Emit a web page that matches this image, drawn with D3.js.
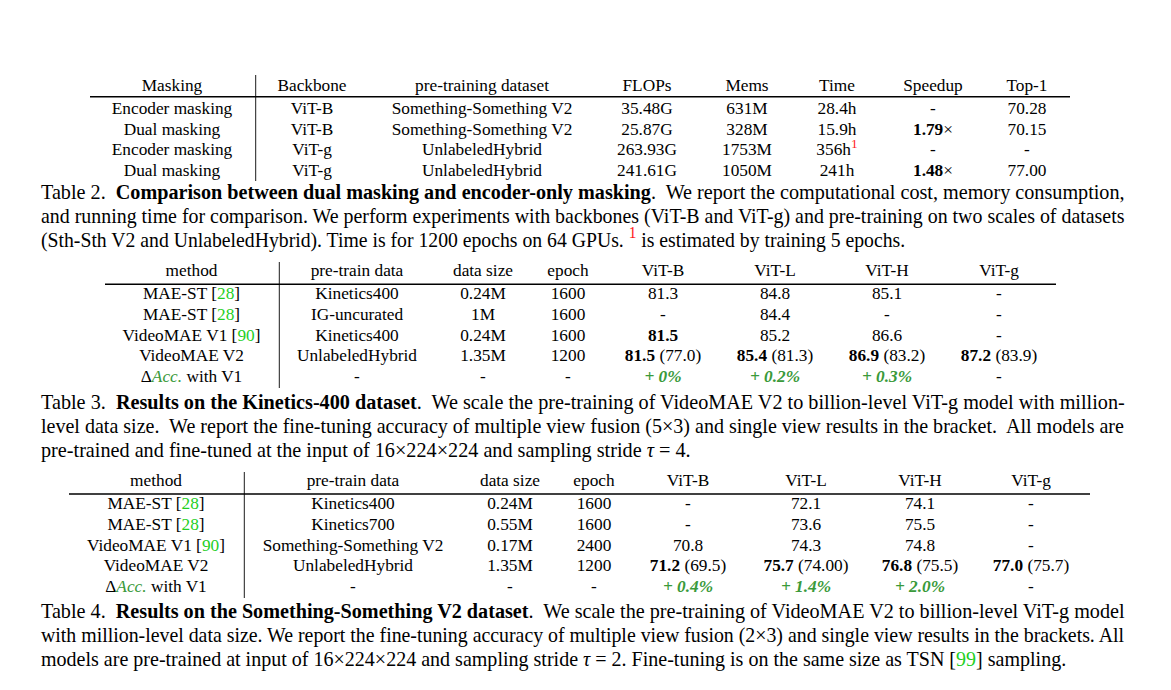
<!DOCTYPE html>
<html><head><meta charset="utf-8">
<script src="https://cdn.jsdelivr.net/npm/d3@7"></script>
<style>html,body{margin:0;padding:0;background:#fff}svg{display:block}</style>
</head><body>
<script>
// ---------- DATA ----------
// Table 2
const t2Columns = ["Masking","Backbone","pre-training dataset","FLOPs","Mems","Time","Speedup","Top-1"];
const t2Masking = ["Encoder masking","Dual masking","Encoder masking","Dual masking"];
const t2Backbone = ["ViT-B","ViT-B","ViT-g","ViT-g"];
const t2Dataset = ["Something-Something V2","Something-Something V2","UnlabeledHybrid","UnlabeledHybrid"];
const t2FLOPs = ["35.48G","25.87G","263.93G","241.61G"];
const t2Mems = ["631M","328M","1753M","1050M"];
const t2Time = ["28.4h","15.9h","356h^1^","241h"];
const t2Speedup = ["-","**1.79**×","-","**1.48**×"];
const t2Top1 = ["70.28","70.15","-","77.00"];
const t2Caption = [
  "Table 2.  **Comparison between dual masking and encoder-only masking**.  We report the computational cost, memory consumption,",
  "and running time for comparison. We perform experiments with backbones (ViT-B and ViT-g) and pre-training on two scales of datasets",
  "(Sth-Sth V2 and UnlabeledHybrid). Time is for 1200 epochs on 64 GPUs. ^1^ is estimated by training 5 epochs."
];
// Table 3
const t3Columns = ["method","pre-train data","data size","epoch","ViT-B","ViT-L","ViT-H","ViT-g"];
const t3Method = ["MAE-ST [{28}]","MAE-ST [{28}]","VideoMAE V1 [{90}]","VideoMAE V2","Δ_Acc._ with V1"];
const t3Data = ["Kinetics400","IG-uncurated","Kinetics400","UnlabeledHybrid","-"];
const t3Size = ["0.24M","1M","0.24M","1.35M","-"];
const t3Epoch = ["1600","1600","1600","1200","-"];
const t3ViTB = ["81.3","-","**81.5**","**81.5** (77.0)","!+ 0%!"];
const t3ViTL = ["84.8","84.4","85.2","**85.4** (81.3)","!+ 0.2%!"];
const t3ViTH = ["85.1","-","86.6","**86.9** (83.2)","!+ 0.3%!"];
const t3ViTg = ["-","-","-","**87.2** (83.9)","-"];
const t3Caption = [
  "Table 3.  **Results on the Kinetics-400 dataset**.  We scale the pre-training of VideoMAE V2 to billion-level ViT-g model with million-",
  "level data size.  We report the fine-tuning accuracy of multiple view fusion (5×3) and single view results in the bracket.  All models are",
  "pre-trained and fine-tuned at the input of 16×224×224 and sampling stride $τ$ = 4."
];
// Table 4
const t4Columns = ["method","pre-train data","data size","epoch","ViT-B","ViT-L","ViT-H","ViT-g"];
const t4Method = ["MAE-ST [{28}]","MAE-ST [{28}]","VideoMAE V1 [{90}]","VideoMAE V2","Δ_Acc._ with V1"];
const t4Data = ["Kinetics400","Kinetics700","Something-Something V2","UnlabeledHybrid","-"];
const t4Size = ["0.24M","0.55M","0.17M","1.35M","-"];
const t4Epoch = ["1600","1600","2400","1200","-"];
const t4ViTB = ["-","-","70.8","**71.2** (69.5)","!+ 0.4%!"];
const t4ViTL = ["72.1","73.6","74.3","**75.7** (74.00)","!+ 1.4%!"];
const t4ViTH = ["74.1","75.5","74.8","**76.8** (75.5)","!+ 2.0%!"];
const t4ViTg = ["-","-","-","**77.0** (75.7)","-"];
const t4Caption = [
  "Table 4.  **Results on the Something-Something V2 dataset**.  We scale the pre-training of VideoMAE V2 to billion-level ViT-g model",
  "with million-level data size. We report the fine-tuning accuracy of multiple view fusion (2×3) and single view results in the brackets. All",
  "models are pre-trained at input of 16×224×224 and sampling stride $τ$ = 2. Fine-tuning is on the same size as TSN [{99}] sampling."
];

// ---------- LAYOUT ----------
const W = 1171, H = 690;
const FONT = "'Liberation Serif','Times New Roman',Times,serif";
const CELL_SIZE = 17.3, CAP_SIZE = 20.3;
const REF_GREEN = "#1fcf1f", DARK_GREEN = "#3a9a3a", RED = "#ff1a1a";

const tables = [
  { cols: t2Columns, data: [t2Masking,t2Backbone,t2Dataset,t2FLOPs,t2Mems,t2Time,t2Speedup,t2Top1],
    colX: [172,312,482,647,747,837,933,1027], headY: 91, rowY0: 114, rowStep: 20.65,
    rule: {x0: 90, x1: 1070, y: 96.8}, vline: {x: 255.7, y0: 75, y1: 181},
    caption: t2Caption, capY0: 198.5, lastW: 864 },
  { cols: t3Columns, data: [t3Method,t3Data,t3Size,t3Epoch,t3ViTB,t3ViTL,t3ViTH,t3ViTg],
    colX: [191.5,357,483,568,663,775,887,999], headY: 275.7, rowY0: 299.3, rowStep: 20.6,
    rule: {x0: 105, x1: 1056, y: 284.3}, vline: {x: 279.3, y0: 262, y1: 388},
    caption: t3Caption, capY0: 408.5, lastW: 649 },
  { cols: t4Columns, data: [t4Method,t4Data,t4Size,t4Epoch,t4ViTB,t4ViTL,t4ViTH,t4ViTg],
    colX: [156,353,510,594,688,806,920,1031], headY: 485.7, rowY0: 509.3, rowStep: 20.65,
    rule: {x0: 69, x1: 1090, y: 494}, vline: {x: 244.3, y0: 472, y1: 598},
    caption: t4Caption, capY0: 617.5, lastW: 1025 }
];
const CAP_X = 41, CAP_W = 1083, CAP_STEP = 24;

const svg = d3.select("body").append("svg").attr("width", W).attr("height", H)
  .style("font-family", FONT);

// rich text parser
const TOKEN = /\*\*(.+?)\*\*|\{(.+?)\}|\^(.+?)\^|_(.+?)_|!(.+?)!|\$(.+?)\$/g;
function rich(textSel, str, size) {
  let last = 0, m, pendingDy = 0;
  const add = (s, style) => {
    if (!s) return;
    const t = textSel.append("tspan").text(s);
    if (pendingDy) { t.attr("dy", pendingDy); pendingDy = 0; }
    if (style) style(t);
  };
  TOKEN.lastIndex = 0;
  while ((m = TOKEN.exec(str)) !== null) {
    add(str.slice(last, m.index));
    if (m[1] !== undefined) add(m[1], t => t.attr("font-weight", "bold"));
    else if (m[2] !== undefined) add(m[2], t => t.attr("fill", REF_GREEN));
    else if (m[3] !== undefined) {
      const dy = -size * 0.4;
      add(m[3], t => t.attr("fill", RED).attr("font-size", size * 0.78).attr("dy", dy));
      pendingDy = -dy;
    }
    else if (m[4] !== undefined) add(m[4], t => t.attr("fill", DARK_GREEN).attr("font-style", "italic"));
    else if (m[5] !== undefined) add(m[5], t => t.attr("fill", DARK_GREEN).attr("font-style", "italic").attr("font-weight", "bold"));
    else if (m[6] !== undefined) add(m[6], t => t.attr("font-style", "italic"));
    last = TOKEN.lastIndex;
  }
  add(str.slice(last));
}

tables.forEach(tb => {
  const g = svg.append("g");
  const x = d3.scaleOrdinal().domain(d3.range(tb.cols.length)).range(tb.colX);
  const y = d3.scaleLinear().domain([0, 1]).range([tb.rowY0, tb.rowY0 + tb.rowStep]);

  // rules
  g.append("line").attr("x1", tb.rule.x0).attr("x2", tb.rule.x1)
    .attr("y1", tb.rule.y).attr("y2", tb.rule.y).attr("stroke", "#000").attr("stroke-width", 1.6);
  g.append("line").attr("x1", tb.vline.x).attr("x2", tb.vline.x)
    .attr("y1", tb.vline.y0).attr("y2", tb.vline.y1).attr("stroke", "#000").attr("stroke-width", 0.9);

  // header
  g.selectAll("text.head").data(tb.cols).join("text").attr("class", "head")
    .attr("x", (d, i) => x(i)).attr("y", tb.headY)
    .attr("text-anchor", "middle").attr("font-size", CELL_SIZE).attr("fill", "#000")
    .text(d => d);

  // body cells
  tb.data.forEach((col, ci) => {
    g.selectAll(null).data(col).join("text")
      .attr("x", x(ci)).attr("y", (d, ri) => y(ri))
      .attr("text-anchor", "middle").attr("font-size", CELL_SIZE).attr("fill", "#000")
      .each(function (d) { rich(d3.select(this), d, CELL_SIZE); });
  });

  // caption
  tb.caption.forEach((line, li) => {
    const lg = svg.append("g");
    const t = lg.append("text").attr("x", 0).attr("y", 0)
      .attr("font-size", CAP_SIZE).attr("fill", "#000")
      .style("white-space", "pre");
    rich(t, line, CAP_SIZE);
    const natural = t.node().getComputedTextLength();
    const target = li === tb.caption.length - 1 ? tb.lastW : CAP_W;
    lg.attr("transform", `translate(${CAP_X},${tb.capY0 + li * CAP_STEP}) scale(${target / natural},1)`);
  });
});
</script>
</body></html>
